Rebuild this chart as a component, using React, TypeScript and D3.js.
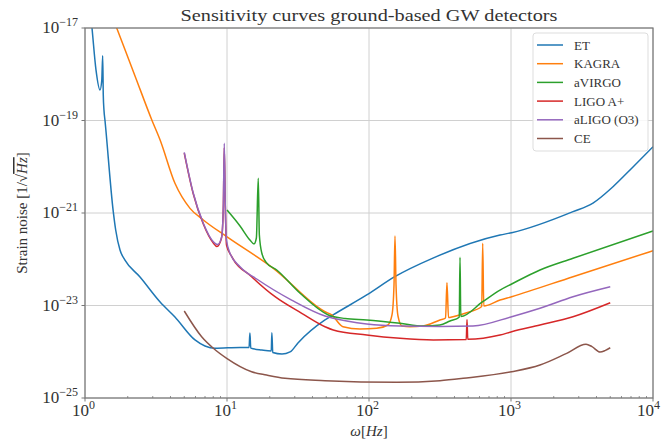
import React from "react";
import * as d3 from "d3";

// frequency [Hz] / strain noise [1/sqrt(Hz)]
const etFreq = [1.08, 1.12, 1.195, 1.275, 1.313, 1.332, 1.345, 1.36, 1.383, 1.58, 1.645, 1.764, 1.912, 2.44, 3.38, 4.3, 5.95, 7.0, 8.23, 12.35, 14.3, 14.5, 14.7, 17.6, 20.5, 20.7, 21.0, 24.4, 27.8, 31.6, 49, 55.8, 96.4, 152, 282, 837, 1011, 2733, 3779, 5227, 7230, 10000];
const etStrain = [3e-17, 1e-17, 1.24e-18, 4.57e-19, 7.5e-19, 2.52e-18, 3.56e-19, 1.69e-19, 1e-19, 1.1e-21, 4.29e-22, 1.58e-22, 9.6e-23, 4.13e-23, 1.19e-23, 5.64e-24, 1.8e-24, 1.33e-24, 1.19e-24, 1.24e-24, 1.24e-24, 2.54e-24, 1.2e-24, 1.09e-24, 1.04e-24, 2.58e-24, 9.6e-25, 8.9e-25, 9.9e-25, 1.55e-24, 4.86e-24, 6.24e-24, 1.69e-23, 4.2e-23, 1.06e-22, 3.34e-22, 3.75e-22, 1.07e-21, 1.64e-21, 3.7e-21, 9.9e-21, 2.7e-20];

const kagraFreq = [1.406, 1.672, 2.25, 2.95, 3.38, 4.3, 5.49, 6.81, 9.95, 21.2, 49, 54.6, 65.6, 86.4, 113.3, 136, 145.2, 150, 152.4, 155, 160, 170.8, 194.5, 240, 316, 346, 354, 363, 390.5, 487.6, 622, 632, 643, 837, 1011, 2733, 10000];
const kagraStrain = [4.03e-17, 1e-17, 9.2e-19, 1.04e-19, 3.79e-20, 4.39e-21, 1.26e-21, 7.06e-22, 3.08e-22, 6.37e-23, 7.34e-24, 6.24e-24, 3.48e-24, 3.1e-24, 3.21e-24, 3.79e-24, 6.24e-24, 2.77e-23, 3.18e-22, 2.77e-23, 5.93e-24, 3.6e-24, 3.48e-24, 3.6e-24, 4.86e-24, 5.37e-24, 3.11e-23, 5.5e-24, 5.73e-24, 6.98e-24, 9.5e-24, 2.21e-22, 9.75e-24, 1.31e-23, 1.55e-23, 4.2e-23, 1.53e-22];

const virgoFreq = [10, 12.35, 14.5, 15.5, 16.1, 16.6, 16.9, 17.6, 18.8, 22.4, 32.7, 51.7, 67.8, 96.4, 165.3, 241, 316, 372, 432, 437.5, 443, 632, 837, 1011, 1600, 2733, 10000];
const virgoStrain = [1.16e-21, 5.24e-22, 2.61e-22, 2.14e-22, 2.88e-22, 5.62e-21, 3.34e-22, 1.35e-22, 8.7e-23, 5.86e-23, 1.84e-23, 6.24e-24, 5.24e-24, 4.86e-24, 4.12e-24, 3.6e-24, 3.79e-24, 4.62e-24, 5.58e-24, 1.1e-22, 5.78e-24, 1.21e-23, 2.16e-23, 2.92e-23, 5.86e-23, 1.05e-22, 4.08e-22];

const ligoPlusFreq = [5, 5.79, 6.81, 8.01, 8.5, 9.15, 9.42, 9.57, 9.73, 9.92, 10.8, 14.9, 21.8, 33.6, 49, 56, 96.4, 165.3, 284, 484, 490, 496, 837, 1011, 1600, 2733, 5000];
const ligoPlusStrain = [1.98e-20, 2.58e-21, 5.78e-22, 2.25e-22, 1.89e-22, 2.88e-22, 1.3e-21, 2.6e-20, 1.35e-21, 2.03e-22, 1.14e-22, 4.2e-23, 1.55e-23, 6.78e-24, 3.48e-24, 2.95e-24, 2.3e-24, 1.95e-24, 1.8e-24, 1.84e-24, 4.98e-24, 1.86e-24, 2.3e-24, 2.71e-24, 3.79e-24, 5.73e-24, 1.15e-23];

const aligoFreq = [5, 5.79, 6.81, 8.01, 8.6, 9.18, 9.42, 9.57, 9.73, 9.92, 10.5, 12.35, 16.6, 28.5, 49, 56, 96.4, 165.3, 316, 540, 1011, 1600, 2733, 5000];
const aligoStrain = [2.05e-20, 2.67e-21, 5.98e-22, 2.39e-22, 2.08e-22, 3.08e-22, 1.37e-21, 3.21e-20, 1.42e-21, 2.61e-22, 1.35e-22, 6.9e-23, 3.56e-23, 1.31e-23, 5.93e-24, 5.29e-24, 3.98e-24, 3.6e-24, 3.52e-24, 3.6e-24, 5.73e-24, 8.7e-24, 1.55e-23, 2.55e-23];

const ceFreq = [5, 6.63, 8.01, 9.95, 14.9, 19.0, 25.6, 49, 156.7, 316, 461, 1011, 1600, 2467, 3375, 3718, 4235, 4590, 5000];
const ceStrain = [7.6e-24, 2.11e-24, 1.19e-24, 7.2e-25, 3.7e-25, 3.14e-25, 2.67e-25, 2.37e-25, 2.18e-25, 2.37e-25, 2.67e-25, 3.7e-25, 5.17e-25, 9.25e-25, 1.45e-24, 1.29e-24, 9.9e-25, 1.06e-24, 1.22e-24];

const seriesNames = ["ET", "KAGRA", "aVIRGO", "LIGO A+", "aLIGO (O3)", "CE"];
const seriesColors = ["#1f77b4", "#ff7f0e", "#2ca02c", "#d62728", "#9467bd", "#8c564b"];
const seriesFreq = [etFreq, kagraFreq, virgoFreq, ligoPlusFreq, aligoFreq, ceFreq];
const seriesStrain = [etStrain, kagraStrain, virgoStrain, ligoPlusStrain, aligoStrain, ceStrain];

const xTickExp = [0, 1, 2, 3, 4];
const yTickExp = [-17, -19, -21, -23, -25];

const W = 661;
const H = 441;
const margin = { top: 28, right: 8, bottom: 43, left: 85 };
const FONT = "'Liberation Serif', 'DejaVu Serif', serif";

export default function App() {
  const x = d3
    .scaleLog()
    .domain([1, 1e4])
    .range([margin.left, W - margin.right]);
  const y = d3
    .scaleLog()
    .domain([1e-25, 1e-17])
    .range([H - margin.bottom, margin.top]);

  const line = d3
    .line<[number, number]>()
    .x((d) => x(d[0]))
    .y((d) => y(d[1]))
    .curve(d3.curveMonotoneX);

  const x0 = margin.left;
  const x1 = W - margin.right;
  const y0 = margin.top;
  const y1 = H - margin.bottom;

  // minor ticks on the x axis (2..9 in each decade)
  const minorX: number[] = [];
  for (let e = 0; e < 4; e++) {
    for (let m = 2; m <= 9; m++) minorX.push(m * Math.pow(10, e));
  }

  const legendX = 533;
  const legendY = 33;

  return (
    <svg width={W} height={H} style={{ display: "block", position: "absolute", left: 0, top: 0 }} fontFamily={FONT}>
      <defs>
        <clipPath id="plotClip">
          <rect x={x0} y={y0} width={x1 - x0} height={y1 - y0} />
        </clipPath>
      </defs>
      <rect width={W} height={H} fill="#fff" />

      {/* grid */}
      {xTickExp.map((e) => (
        <line key={"gx" + e} x1={x(Math.pow(10, e))} x2={x(Math.pow(10, e))} y1={y0} y2={y1} stroke="#d0d0d0" strokeWidth={1} />
      ))}
      {yTickExp.map((e) => (
        <line key={"gy" + e} x1={x0} x2={x1} y1={y(Math.pow(10, e))} y2={y(Math.pow(10, e))} stroke="#d0d0d0" strokeWidth={1} />
      ))}

      {/* curves */}
      <g clipPath="url(#plotClip)">
        {seriesNames.map((name, i) => (
          <path
            key={name}
            d={line(seriesFreq[i].map((f, j) => [f, seriesStrain[i][j]] as [number, number])) || ""}
            fill="none"
            stroke={seriesColors[i]}
            strokeWidth={1.5}
            strokeLinejoin="round"
          />
        ))}
      </g>

      {/* frame */}
      <rect x={x0} y={y0} width={x1 - x0} height={y1 - y0} fill="none" stroke="#777" strokeWidth={1.2} />

      {/* x ticks */}
      {minorX.map((v) => (
        <line key={"mx" + v} x1={x(v)} x2={x(v)} y1={y1} y2={y1 - 2} stroke="#777" strokeWidth={0.8} />
      ))}
      {xTickExp.map((e, i) => {
        const last = i === xTickExp.length - 1;
        return (
          <g key={"xt" + e}>
            <line x1={x(Math.pow(10, e))} x2={x(Math.pow(10, e))} y1={y1} y2={y1 + 3.5} stroke="#777" />
            <text
              x={last ? W - 1 : x(Math.pow(10, e)) - 13}
              y={y1 + 18}
              textAnchor={last ? "end" : "start"}
              fontSize={17}
              fill="#333"
            >
              10
              <tspan dy={-7} fontSize={12}>{e}</tspan>
            </text>
          </g>
        );
      })}

      {/* y ticks */}
      {yTickExp.map((e) => (
        <g key={"yt" + e}>
          <line x1={x0 - 3.5} x2={x0} y1={y(Math.pow(10, e))} y2={y(Math.pow(10, e))} stroke="#777" />
          <text x={x0 - 7} y={y(Math.pow(10, e)) + 5} textAnchor="end" fontSize={17} fill="#333">
            10
            <tspan dy={-7} fontSize={12}>{"\u2212" + Math.abs(e)}</tspan>
          </text>
        </g>
      ))}

      {/* title */}
      <text x={(x0 + x1) / 2} y={21} textAnchor="middle" fontSize={17} fill="#333" textLength={377} lengthAdjust="spacingAndGlyphs">
        Sensitivity curves ground-based GW detectors
      </text>

      {/* axis labels */}
      <text x={(x0 + x1) / 2} y={436} textAnchor="middle" fontSize={15} fill="#333">
        <tspan fontStyle="italic">ω</tspan>[<tspan fontStyle="italic">Hz</tspan>]
      </text>
      <text transform={`translate(27, ${(y0 + y1) / 2}) rotate(-90)`} textAnchor="middle" fontSize={15} fill="#333">
        Strain noise [1/√<tspan fontStyle="italic" textDecoration="overline">Hz</tspan>]
      </text>

      {/* legend */}
      <rect x={legendX} y={legendY} width={115} height={118} rx={3} fill="#fff" fillOpacity={0.85} stroke="#ddd" />
      {seriesNames.map((name, i) => (
        <g key={"lg" + name} transform={`translate(${legendX}, ${legendY + 12 + i * 18.7})`}>
          <line x1={4} x2={30} y1={0} y2={0} stroke={seriesColors[i]} strokeWidth={1.5} />
          <text x={41} y={4.5} fontSize={13} fill="#333">
            {name}
          </text>
        </g>
      ))}
    </svg>
  );
}
